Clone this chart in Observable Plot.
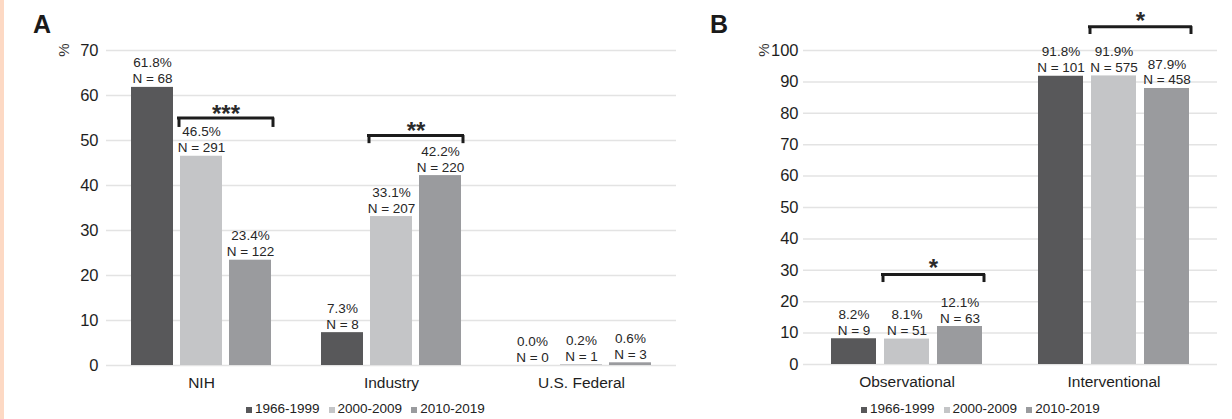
<!DOCTYPE html>
<html>
<head>
<meta charset="utf-8">
<script src="https://cdn.jsdelivr.net/npm/d3@7"></script>
<script src="https://cdn.jsdelivr.net/npm/@observablehq/plot@0.6"></script>
<style>
  html, body { margin: 0; padding: 0; background: #fff; }
  #wrap { position: relative; width: 1232px; height: 419px; overflow: hidden; background: #fff;
          font-family: "Liberation Sans", Arial, Helvetica, sans-serif; color: #222; }
  .strip { position: absolute; left: 0; top: 0; width: 4px; height: 419px; background: #fdd9c4; }
  .panel { position: absolute; top: 0; }
  .tag { position: absolute; font-weight: bold; font-size: 25px; line-height: 25px; color: #1a1a1a; }
  .unit { position: absolute; font-size: 15px; line-height: 15px; transform: translate(-50%, -50%) rotate(-90deg); color: #333; }
  .legend { position: absolute; display: flex; align-items: baseline; font-size: 13.5px; line-height: 14px; color: #222; white-space: nowrap; }
  .legend .item { display: flex; align-items: baseline; margin-right: 9px; }
  .legend .sw { display: inline-block; width: 6px; height: 6px; margin-right: 3px; }
</style>
</head>
<body>
<div id="wrap">
  <div class="strip"></div>
  <div class="tag" style="left:33px; top:12px;">A</div>
  <div class="tag" style="left:710px; top:12px;">B</div>
  <div id="panelA" class="panel" style="left:0px;"></div>
  <div id="panelB" class="panel" style="left:690px;"></div>
  <div class="unit" style="left:63px; top:50px;">%</div>
  <div class="unit" style="left:763px; top:50px;">%</div>
  <div id="legendA" class="legend" style="left:246px; top:402px;"></div>
  <div id="legendB" class="legend" style="left:861px; top:402px;"></div>
</div>
<script>
// ---------- data ----------
const periods = ["1966-1999", "2000-2009", "2010-2019"];
const periodColors = ["#58585a", "#c4c5c7", "#9a9b9e"];

const fundingCategories = ["NIH", "Industry", "U.S. Federal"];
const fundingPct = [[61.8, 46.5, 23.4], [7.3, 33.1, 42.2], [0.0, 0.2, 0.6]];
const fundingN = [[68, 291, 122], [8, 207, 220], [0, 1, 3]];
const fundingTicks = [0, 10, 20, 30, 40, 50, 60, 70];
const fundingBrackets = [
  {category: "NIH", from: "2000-2009", to: "2010-2019", y: 55, tickY: 52.9, labelY: 57.2, label: "***"},
  {category: "Industry", from: "2000-2009", to: "2010-2019", y: 51.1, tickY: 49.3, labelY: 53.4, label: "**"}
];

const designCategories = ["Observational", "Interventional"];
const designPct = [[8.2, 8.1, 12.1], [91.8, 91.9, 87.9]];
const designN = [[9, 51, 63], [101, 575, 458]];
const designTicks = [0, 10, 20, 30, 40, 50, 60, 70, 80, 90, 100];
const designBrackets = [
  {category: "Observational", from: "2000-2009", to: "2010-2019", y: 28.7, tickY: 26.1, labelY: 32.4, label: "*"},
  {category: "Interventional", from: "2000-2009", to: "2010-2019", y: 107.6, tickY: 105.1, labelY: 111.2, label: "*"}
];

// ---------- drawing ----------
function panel(cfg) {
  const {categories, pct, n, ticks, brackets, width, height, marginLeft, marginRight, marginBottom, tickPadding} = cfg;
  const rows = categories.flatMap((c, i) => periods.map((p, j) => ({category: c, period: p, pct: pct[i][j], n: n[i][j]})));
  const base = {
    width, height, marginLeft, marginRight, marginTop: 50, marginBottom,
    style: {fontFamily: "'Liberation Sans', Arial, Helvetica, sans-serif", fontSize: "16px", color: "#1e1e1e", background: "transparent", overflow: "visible"},
    fx: {domain: categories, padding: 0, label: null},
    x: {domain: periods, paddingInner: 0.15, paddingOuter: 0.5, axis: null},
    y: {domain: [0, ticks[ticks.length - 1]], axis: null},
    color: {domain: periods, range: periodColors}
  };
  const core = [
    Plot.ruleY(ticks, {stroke: "#e3e3e3", strokeWidth: 1.5}),
    Plot.barY(rows, {fx: "category", x: "period", y: "pct", fill: "period"}),
    Plot.text(rows, {fx: "category", x: "period", y: "pct",
      text: d => `${d.pct.toFixed(1)}%\nN = ${d.n}`,
      lineAnchor: "bottom", dy: -4, fontSize: 13.5, lineHeight: 1.18, fill: "#262626"}),
    Plot.axisY(ticks, {tickSize: 0, tickPadding, fontSize: 16.5, label: null}),
    Plot.axisFx({anchor: "bottom", tickSize: 0, tickPadding: 11, fontSize: 15.5, label: null})
  ];
  const probe = Plot.plot({...base, marks: core});
  const xs = probe.scale("x");
  const bw = xs.bandwidth;
  const step = xs.step ?? bw / 0.85;
  const ink = "#1c1c1c";
  const marks = core.concat([
    Plot.ruleY(brackets, {fx: "category", x1: "from", x2: "to", y: "y", stroke: ink, strokeWidth: 3, insetLeft: -3, insetRight: -3}),
    Plot.ruleX(brackets, {fx: "category", x: "from", y1: "y", y2: "tickY", dx: -bw / 2 - 1.5, stroke: ink, strokeWidth: 3}),
    Plot.ruleX(brackets, {fx: "category", x: "to", y1: "y", y2: "tickY", dx: bw / 2 + 1.5, stroke: ink, strokeWidth: 3}),
    Plot.text(brackets, {fx: "category", x: "from", y: "labelY", dx: step / 2, dy: 6, text: "label",
      fontSize: 24, fontWeight: "bold", fill: "#2a2a2a", letterSpacing: 2})
  ]);
  return Plot.plot({...base, marks});
}

function legend(el) {
  periods.forEach((p, i) => {
    const item = document.createElement("span");
    item.className = "item";
    const sw = document.createElement("span");
    sw.className = "sw";
    sw.style.background = periodColors[i];
    item.appendChild(sw);
    item.appendChild(document.createTextNode(p));
    el.appendChild(item);
  });
}

document.getElementById("panelA").appendChild(panel({
  categories: fundingCategories, pct: fundingPct, n: fundingN, ticks: fundingTicks, brackets: fundingBrackets,
  width: 690, height: 395, marginLeft: 105, marginRight: 13, marginBottom: 30, tickPadding: 8
}));
document.getElementById("panelB").appendChild(panel({
  categories: designCategories, pct: designPct, n: designN, ticks: designTicks, brackets: designBrackets,
  width: 542, height: 395, marginLeft: 112, marginRight: 15, marginBottom: 31, tickPadding: 5
}));
legend(document.getElementById("legendA"));
legend(document.getElementById("legendB"));
</script>
</body>
</html>
